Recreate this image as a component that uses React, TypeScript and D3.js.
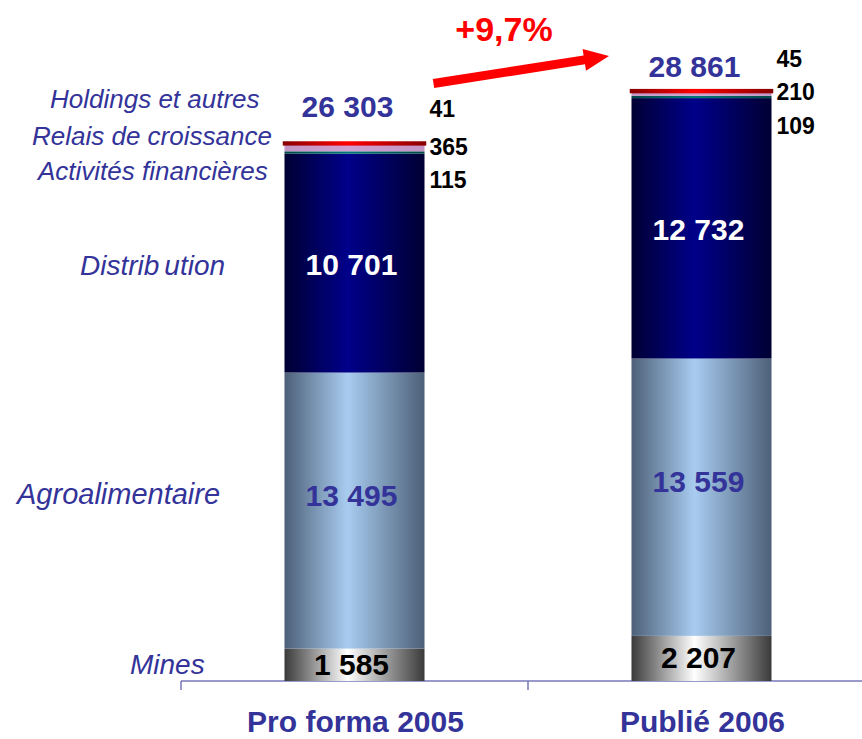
import React from "react";
import * as d3 from "d3";

// ---- data ----
const categories = ["Pro forma 2005", "Publié 2006"];
const seriesKeys = ["mines", "agro", "distribution", "financieres", "relais", "holdings"];
const seriesNames = [
  "Mines",
  "Agroalimentaire",
  "Distribution",
  "Activités financières",
  "Relais de croissance",
  "Holdings et autres",
];
const mines = [1585, 2207];
const agro = [13495, 13559];
const distribution = [10701, 12732];
const financieres = [115, 109];
const relais = [365, 210];
const holdings = [41, 45];
const totals = [26303, 28861];
const growthLabel = "+9,7%";

// ---- layout / style ----
const W = 862;
const H = 739;
const FONT = "'Liberation Sans', Arial, Helvetica, sans-serif";
const BLUE_TXT = "#333399";
const baseY = 681;

const gradients: Record<string, { edge: string; mid: string }> = {
  mines: { edge: "#3a3a3a", mid: "#ffffff" },
  agro: { edge: "#4d6078", mid: "#a8ccf0" },
  distribution: { edge: "#000033", mid: "#00008a" },
  financieres: { edge: "#004848", mid: "#007878" },
  relais: { edge: "#c494c4", mid: "#d0a0d0" },
  holdings: { edge: "#8a0000", mid: "#ff0000" },
};

// left-side legend label placement (x start, baseline y, font size)
const legendLayout: Record<string, { x: number; y: number; size: number }> = {
  holdings: { x: 50, y: 108, size: 26 },
  relais: { x: 32, y: 145, size: 26 },
  financieres: { x: 38, y: 180, size: 26 },
  distribution: { x: 80, y: 275, size: 28 },
  agro: { x: 17, y: 504, size: 29 },
  mines: { x: 130, y: 674, size: 28 },
};

// inner value labels: colour and vertical offset from segment centre
const innerLabelStyle: Record<string, { color: string; dy: number }> = {
  mines: { color: "#000000", dy: 10 },
  agro: { color: BLUE_TXT, dy: -5 },
  distribution: { color: "#ffffff", dy: 12 },
};

// small outside labels: offset of baseline from bar top
const smallLabelDy: Record<string, number[]> = {
  holdings: [-26, -24],
  relais: [12, 9],
  financieres: [45, 43],
};
const totalDy = [-26, -14];

const valuesBySeries: Record<string, number[]> = {
  mines,
  agro,
  distribution,
  financieres,
  relais,
  holdings,
};

function fmt(v: number) {
  return d3.format(",")(v).replace(/,/g, " ");
}

export default function App() {
  const x = d3
    .scaleBand<string>()
    .domain(categories)
    .range([181, 875])
    .paddingInner(0.5965)
    .paddingOuter(0.29825);
  const y = d3.scaleLinear().domain([0, totals[0]]).range([baseY, 143]);

  const rows = categories.map((c, i) => {
    const r: any = { cat: c };
    seriesKeys.forEach((k) => (r[k] = valuesBySeries[k][i]));
    return r;
  });
  const stacked = d3.stack<any>().keys(seriesKeys)(rows);

  const bw = x.bandwidth();

  // arrow geometry
  const ax0 = 433.5, ay0 = 83.5, ax1 = 609, ay1 = 56;
  const ang = Math.atan2(ay1 - ay0, ax1 - ax0);
  const len = Math.hypot(ax1 - ax0, ay1 - ay0);
  const shaftW = 9, headL = 25, headW = 22;
  const arrowPts = [
    [0, -shaftW / 2],
    [len - headL, -shaftW / 2],
    [len - headL, -headW / 2],
    [len, 0],
    [len - headL, headW / 2],
    [len - headL, shaftW / 2],
    [0, shaftW / 2],
  ]
    .map(([px, py]) => {
      const rx = ax0 + px * Math.cos(ang) - py * Math.sin(ang);
      const ry = ay0 + px * Math.sin(ang) + py * Math.cos(ang);
      return `${rx},${ry}`;
    })
    .join(" ");

  return (
    <svg
      width={W}
      height={H}
      style={{ position: "absolute", left: 0, top: 0, background: "#fff" }}
      fontFamily={FONT}
    >
      <defs>
        {seriesKeys.map((k) => (
          <linearGradient id={`g-${k}`} key={k} x1="0" x2="1" y1="0" y2="0">
            <stop offset="0%" stopColor={gradients[k].edge} />
            <stop offset="45%" stopColor={gradients[k].mid} />
            <stop offset="100%" stopColor={gradients[k].edge} />
          </linearGradient>
        ))}
      </defs>

      {/* axis */}
      <line x1={181} x2={W} y1={baseY} y2={baseY} stroke="#7777bb" strokeWidth={1.5} />
      {[181, 875, ...categories.slice(1).map((c) => (x(c) as number) - (x.step() - bw) / 2)].map((tx, i) => (
        <line key={i} x1={tx} x2={tx} y1={baseY} y2={baseY + 9} stroke="#7777bb" strokeWidth={1.5} />
      ))}

      {/* bars */}
      {stacked.map((s) => (
        <g key={s.key}>
          {s.map((d, i) => {
            const y0 = y(d[0]);
            const y1 = y(d[1]);
            const isHold = s.key === "holdings";
            return (
              <rect
                key={i}
                x={x(categories[i])}
                width={bw}
                y={y1}
                height={Math.max(0.5, y0 - y1)}
                fill={`url(#g-${s.key})`}
                stroke={isHold ? `url(#g-${s.key})` : "none"}
                strokeWidth={isHold ? 3.5 : 0}
              />
            );
          })}
        </g>
      ))}

      {/* inner value labels */}
      {stacked
        .filter((s) => innerLabelStyle[s.key])
        .map((s) =>
          s.map((d, i) => {
            const cx = (x(categories[i]) as number) + bw / 2 - 3;
            const cy = (y(d[0]) + y(d[1])) / 2 + innerLabelStyle[s.key].dy;
            return (
              <text
                key={s.key + i}
                x={cx}
                y={cy}
                textAnchor="middle"
                fontWeight="bold"
                fontSize={30}
                fill={innerLabelStyle[s.key].color}
              >
                {fmt(valuesBySeries[s.key][i])}
              </text>
            );
          })
        )}

      {/* small outside labels */}
      {Object.keys(smallLabelDy).map((k) =>
        categories.map((c, i) => (
          <text
            key={k + i}
            x={(x(c) as number) + bw + 5}
            y={y(totals[i]) + smallLabelDy[k][i]}
            fontWeight="bold"
            fontSize={23}
            fill="#000"
          >
            {fmt(valuesBySeries[k][i])}
          </text>
        ))
      )}

      {/* totals */}
      {categories.map((c, i) => (
        <text
          key={"t" + i}
          x={(x(c) as number) + bw / 2 - 7}
          y={y(totals[i]) + totalDy[i]}
          textAnchor="middle"
          fontWeight="bold"
          fontSize={30}
          fill={BLUE_TXT}
        >
          {fmt(totals[i])}
        </text>
      ))}

      {/* category labels */}
      {categories.map((c) => (
        <text
          key={c}
          x={(x(c) as number) + bw / 2 + 1}
          y={732}
          textAnchor="middle"
          fontWeight="bold"
          fontSize={30}
          fill={BLUE_TXT}
        >
          {c}
        </text>
      ))}

      {/* legend labels */}
      {seriesKeys.map((k, i) => {
        const L = legendLayout[k];
        const name = seriesNames[i];
        if (k === "distribution") {
          return (
            <text key={k} x={L.x} y={L.y} fontStyle="italic" fontSize={L.size} fill={BLUE_TXT}>
              <tspan>{name.slice(0, 7)}</tspan>
              <tspan dx={5}>{name.slice(7)}</tspan>
            </text>
          );
        }
        return (
          <text key={k} x={L.x} y={L.y} fontStyle="italic" fontSize={L.size} fill={BLUE_TXT}>
            {name}
          </text>
        );
      })}

      {/* growth arrow */}
      <polygon points={arrowPts} fill="#ff0000" />
      <text x={504} y={41} textAnchor="middle" fontWeight="bold" fontSize={34} fill="#ff0000">
        {growthLabel}
      </text>
    </svg>
  );
}
